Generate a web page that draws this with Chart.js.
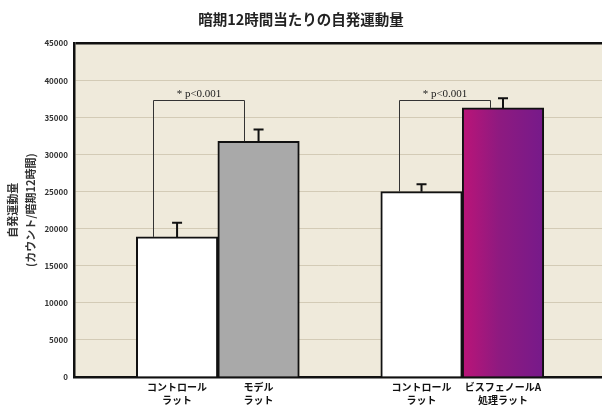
<!doctype html>
<html lang="ja">
<head>
  <meta charset="utf-8">
  <style>
    * { margin: 0; padding: 0; }
    body { background: #fff; }
    .chartBox { width: 602px; height: 412px; }
  </style>
</head>
<body>
<div class="chartBox">
  <canvas id="myChart" width="602" height="412"></canvas>
</div>
<script src="https://cdn.jsdelivr.net/npm/chart.js"></script>
<script>
  // data
  const groups = [['コントロール', 'ラット'], ['モデル', 'ラット'], ['コントロール', 'ラット'], ['ビスフェノールA', '処理ラット']]
  const xPos = [0, 1, 3, 4]
  const means = [18900, 31800, 25000, 36300]
  const errTop = [20800, 33400, 26000, 37600]
  const barColors = ['#ffffff', '#a9a9a9', '#ffffff', 'bisphenol']
  // brackets: [x left, x right, top value, left leg bottom, right leg bottom]
  const brackets = [[-0.29, 0.82, 37400, 18900, 31800], [2.72, 3.84, 37400, 25000, 36300]]
  const sigText = '* p<0.001'

  const font = '"Noto Sans CJK JP", "Noto Sans", sans-serif'

  function barFill(ctx) {
    const c = barColors[ctx.dataIndex]
    if (c !== 'bisphenol') return c
    const chart = ctx.chart
    const x = chart.scales.x
    if (!x || !chart.chartArea) return '#8a1a82'
    const v = xPos[ctx.dataIndex]
    const l = x.getPixelForValue(v - 0.5)
    const r = x.getPixelForValue(v + 0.5)
    if (!isFinite(l) || !isFinite(r)) return '#8a1a82'
    const g = chart.ctx.createLinearGradient(l, 0, r, 0)
    g.addColorStop(0, '#bb1478')
    g.addColorStop(0.45, '#8e1a80')
    g.addColorStop(1, '#761a8a')
    return g
  }

  const extras = {
    id: 'extras',
    beforeDraw(chart) {
      const { ctx, chartArea: a } = chart
      ctx.save()
      ctx.fillStyle = '#efeadb'
      ctx.fillRect(a.left, a.top, a.right - a.left, a.bottom - a.top)
      ctx.restore()
    },
    afterDatasetsDraw(chart) {
      const { ctx, scales: { x, y } } = chart
      ctx.save()
      // error bars
      ctx.strokeStyle = '#111'
      ctx.lineWidth = 2
      xPos.forEach((v, i) => {
        const px = x.getPixelForValue(v)
        ctx.beginPath()
        ctx.moveTo(px, y.getPixelForValue(means[i]))
        ctx.lineTo(px, y.getPixelForValue(errTop[i]))
        ctx.moveTo(px - 5, y.getPixelForValue(errTop[i]))
        ctx.lineTo(px + 5, y.getPixelForValue(errTop[i]))
        ctx.stroke()
      })
      // significance brackets
      ctx.strokeStyle = '#333'
      ctx.lineWidth = 1
      ctx.fillStyle = '#222'
      ctx.font = '11px "Liberation Serif", serif'
      ctx.textAlign = 'center'
      ctx.textBaseline = 'bottom'
      brackets.forEach(b => {
        const x1 = Math.round(x.getPixelForValue(b[0])) + 0.5
        const x2 = Math.round(x.getPixelForValue(b[1])) + 0.5
        const yt = Math.round(y.getPixelForValue(b[2])) + 0.5
        ctx.beginPath()
        ctx.moveTo(x1, y.getPixelForValue(b[3]))
        ctx.lineTo(x1, yt)
        ctx.lineTo(x2, yt)
        ctx.lineTo(x2, y.getPixelForValue(b[4]))
        ctx.stroke()
        ctx.fillText(sigText, (x1 + x2) / 2, yt - 1)
      })
      ctx.restore()
    }
  }

  const data = {
    datasets: [{
      data: xPos.map((v, i) => ({ x: v, y: means[i] })),
      backgroundColor: barFill,
      borderColor: '#111',
      borderWidth: 2,
      borderSkipped: 'bottom',
      categoryPercentage: 1,
      barPercentage: 1
    }]
  }

  const config = {
    type: 'bar',
    data,
    plugins: [extras],
    options: {
      responsive: false,
      animation: false,
      layout: { padding: { top: 0, right: 0, left: 0, bottom: 2 } },
      plugins: {
        legend: { display: false },
        tooltip: { enabled: false },
        title: {
          display: true,
          text: '暗期12時間当たりの自発運動量',
          color: '#222',
          font: { family: font, size: 14.5, weight: 'bold' },
          padding: { top: 11, bottom: 15 }
        }
      },
      scales: {
        x: {
          type: 'linear',
          min: -1.265,
          max: 5.215,
          offset: false,
          afterBuildTicks: s => { s.ticks = xPos.map(v => ({ value: v })) },
          ticks: {
            callback: (v) => groups[xPos.indexOf(v)],
            color: '#111',
            font: { family: font, size: 10, weight: 'bold', lineHeight: 1.25 },
            maxRotation: 0,
            autoSkip: false,
            padding: 4
          },
          grid: { display: false, drawTicks: false },
          border: { display: true, color: '#111', width: 2.5 }
        },
        y: {
          min: 0,
          max: 45000,
          ticks: {
            stepSize: 5000,
            callback: v => String(v),
            color: '#333',
            font: { family: font, size: 8, weight: 'bold' },
            padding: 6
          },
          afterFit: s => { s.width = 74 },
          grid: {
            drawTicks: false,
            color: c => c.tick.value === 45000 ? '#111' : '#d3cbb6',
            lineWidth: c => c.tick.value === 45000 ? 2.5 : 1
          },
          border: { display: true, color: '#111', width: 2.5 },
          title: {
            display: true,
            text: ['自発運動量', '(カウント/暗期12時間)'],
            color: '#333',
            font: { family: font, size: 11, weight: 'bold', lineHeight: 1.6 },
            padding: { top: 4, bottom: 0 }
          }
        }
      }
    }
  }

  const myChart = new Chart(document.getElementById('myChart'), config)
</script>
</body>
</html>
